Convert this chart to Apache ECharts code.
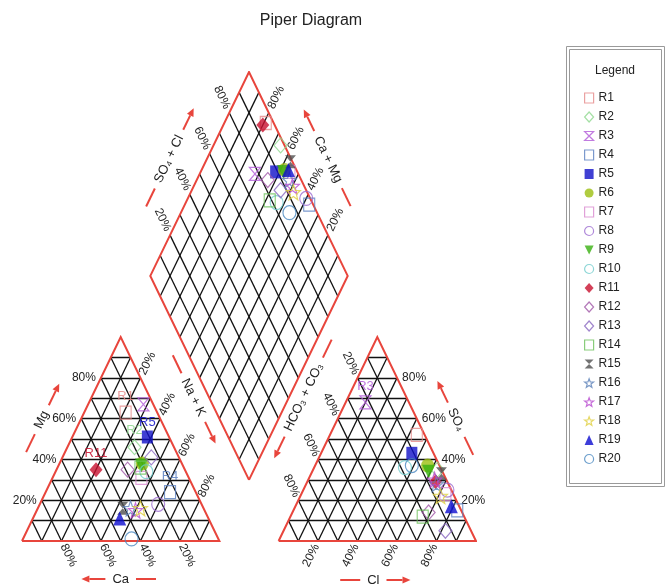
<!DOCTYPE html>
<html>
<head>
<meta charset="utf-8">
<title>Piper Diagram</title>
<script src="https://cdn.jsdelivr.net/npm/echarts@6/dist/echarts.min.js"></script>
<style>
  html, body { margin: 0; padding: 0; background: #fff; }
  #chart { width: 668px; height: 584px; }
</style>
</head>
<body>
<div id="chart"></div>
<script>
// ---- sample data (percent of meq/L) ----
const samples = ['R1','R2','R3','R4','R5','R6','R7','R8','R9','R10',
                 'R11','R12','R13','R14','R15','R16','R17','R18','R19','R20'];
// cations
const caPct  = [16, 20,  5, 13, 11, 20, 24, 22, 21, 20, 45, 29, 14, 22, 41, 37, 35, 32, 45, 44];
const mgPct  = [63, 46, 67, 24, 51, 38, 31, 18, 37, 34, 35, 35, 41, 36, 16, 16, 15, 16, 11,  1];
const naKPct = [21, 34, 28, 63, 38, 42, 45, 60, 42, 46, 20, 36, 45, 42, 43, 47, 50, 52, 44, 55];
// anions
const hco3Pct = [ 4,  2, 22,  2, 11,  6,  4,  2,  7, 18,  6, 17, 13, 21,  1,  6,  6,  7,  4, 14];
const so4Pct  = [52, 35, 68, 15, 43, 37, 23, 25, 34, 36, 29, 14,  5, 12, 33, 28, 30, 22, 17, 37];
const clPct   = [44, 63, 10, 83, 46, 57, 73, 73, 59, 46, 65, 69, 82, 67, 66, 66, 64, 71, 79, 49];

// tick labels on every ternary edge
const tickPercents = [20, 40, 60, 80];
const tickLabels = ['20%', '40%', '60%', '80%'];
const gridPercents = [10, 20, 30, 40, 50, 60, 70, 80, 90];

// samples whose names are written next to the marker
const namedInCationPlot = ['R1', 'R2', 'R4', 'R5', 'R11'];
const namedInAnionPlot = ['R3'];

// ---- marker styles ----
const STAR = (function () {
  let d = '';
  for (let i = 0; i < 10; i++) {
    const r = i % 2 ? 0.42 : 1;
    const t = -Math.PI / 2 + i * Math.PI / 5;
    d += (i ? 'L' : 'M') + (r * Math.cos(t)).toFixed(3) + ',' + (r * Math.sin(t)).toFixed(3);
  }
  return 'path://' + d + 'Z';
})();
const SQUARE = 'rect', DIAMOND = 'diamond', CIRCLE = 'circle', TRI_UP = 'triangle';
const TRI_DOWN = 'path://M0,0L10,0L5,10Z';
const HOURGLASS = 'path://M0,0L10,0L0,10L10,10Z';

const markerStyles = [
  { symbol: SQUARE,    color: '#e58a8a', filled: false, size: [11, 13] },
  { symbol: DIAMOND,   color: '#8fd88f', filled: false, size: [13, 15] },
  { symbol: HOURGLASS, color: '#b25ad8', filled: false, size: [11, 13] },
  { symbol: SQUARE,    color: '#5a7fc0', filled: false, size: [11, 13] },
  { symbol: SQUARE,    color: '#1010c8', filled: true,  size: [11, 13] },
  { symbol: CIRCLE,    color: '#9cbf10', filled: true,  size: [13, 14] },
  { symbol: SQUARE,    color: '#d98ad0', filled: false, size: [11, 13] },
  { symbol: CIRCLE,    color: '#9b6ad0', filled: false, size: [13, 14] },
  { symbol: TRI_DOWN,  color: '#38b010', filled: true,  size: [13, 14] },
  { symbol: CIRCLE,    color: '#70cccc', filled: false, size: [13, 14] },
  { symbol: DIAMOND,   color: '#c8102e', filled: true,  size: [13, 15] },
  { symbol: DIAMOND,   color: '#a058a8', filled: false, size: [13, 15] },
  { symbol: DIAMOND,   color: '#8a68c0', filled: false, size: [13, 15] },
  { symbol: SQUARE,    color: '#6cc05a', filled: false, size: [11, 13] },
  { symbol: HOURGLASS, color: '#505050', filled: true,  size: [11, 13] },
  { symbol: STAR,      color: '#5a80b8', filled: false, size: [14, 15] },
  { symbol: STAR,      color: '#b848d0', filled: false, size: [14, 15] },
  { symbol: STAR,      color: '#e0d040', filled: false, size: [14, 15] },
  { symbol: TRI_UP,    color: '#0c0cd0', filled: true,  size: [13, 14] },
  { symbol: CIRCLE,    color: '#4a88c0', filled: false, size: [13, 14] }
];

const FONT = '"Liberation Sans", Arial, Helvetica, sans-serif';
const RED = '#e8453c';
const TEXT = '#222';

// ---- Piper geometry in axis units: triangle side = 100, height = 100 ----
const GAP = 30;                 // horizontal gap between the two triangles
const ANION_X0 = 100 + GAP;     // left corner of the anion triangle
const DIAMOND_BOTTOM = [100 + GAP / 2, GAP];

function cationXY(ca, mg, nak) {
  const s = ca + mg + nak;
  const m = 100 * mg / s, n = 100 * nak / s;
  return [n + m / 2, m];
}
function anionXY(hco3, so4, cl) {
  const s = hco3 + so4 + cl;
  const su = 100 * so4 / s, c = 100 * cl / s;
  return [ANION_X0 + c + su / 2, su];
}
// a = SO4 + Cl (%), c = Ca + Mg (%)
function diamondXY(a, c) {
  return [DIAMOND_BOTTOM[0] + (a - c) / 2, DIAMOND_BOTTOM[1] + a + c];
}

// ---- grid and frame segments ----
function gridSegments() {
  const segs = [];
  gridPercents.forEach(function (v) {
    [0, ANION_X0].forEach(function (ox) {
      segs.push([[ox + v / 2, v], [ox + 100 - v / 2, v]]);
      segs.push([[ox + v, 0], [ox + 50 + v / 2, 100 - v]]);
      segs.push([[ox + 100 - v, 0], [ox + (100 - v) / 2, 100 - v]]);
    });
    segs.push([diamondXY(v, 0), diamondXY(v, 100)]);
    segs.push([diamondXY(0, v), diamondXY(100, v)]);
  });
  return segs;
}
const frames = [
  [[0, 0], [100, 0], [50, 100], [0, 0]],
  [[ANION_X0, 0], [ANION_X0 + 100, 0], [ANION_X0 + 50, 100], [ANION_X0, 0]],
  [diamondXY(0, 0), diamondXY(100, 0), diamondXY(100, 100), diamondXY(0, 100), diamondXY(0, 0)]
];

// ---- helpers for annotations ----
const measureCtx = document.createElement('canvas').getContext('2d');
function textWidth(s, size) {
  measureCtx.font = size + 'px ' + FONT;
  return measureCtx.measureText(s).width;
}
const sub = (a, b) => [a[0] - b[0], a[1] - b[1]];
const add = (a, b) => [a[0] + b[0], a[1] + b[1]];
const mul = (a, k) => [a[0] * k, a[1] * k];
const unit = a => { const l = Math.hypot(a[0], a[1]); return [a[0] / l, a[1] / l]; };

function textEl(p, s, rot, align, size) {
  return {
    type: 'text', x: p[0], y: p[1], rotation: rot || 0,
    style: { text: s, x: 0, y: 0, align: align || 'center', verticalAlign: 'middle',
             fill: TEXT, font: (size || 12) + 'px ' + FONT }
  };
}
function lineEl(a, b) {
  return { type: 'line', shape: { x1: a[0], y1: a[1], x2: b[0], y2: b[1] },
           style: { stroke: RED, lineWidth: 2 } };
}
function arrowEls(s, e) {
  const d = unit(sub(e, s)), n = [-d[1], d[0]];
  const hl = 8, hw = 3.6;
  const b = sub(e, mul(d, hl));
  return [
    lineEl(s, b),
    { type: 'polygon', shape: { points: [e, add(b, mul(n, hw)), sub(b, mul(n, hw))] },
      style: { fill: RED } }
  ];
}

function renderAnnotations(params, api) {
  const P = p => api.coord(p);
  const els = [];
  const vUR = unit(sub(P([50, 100]), P([0, 0])));
  const vDR = [vUR[0], -vUR[1]];
  const vUL = [-vUR[0], vUR[1]];
  const vDL = [-vUR[0], -vUR[1]];
  const angUR = Math.atan2(-vUR[1], vUR[0]);
  const angDR = -angUR;

  tickPercents.forEach(function (v, k) {
    const lab = tickLabels[k];
    let p;
    // cation triangle
    p = P([v / 2, v]);
    els.push(textEl([p[0] - 5, p[1]], lab, 0, 'right'));                      // Mg
    els.push(textEl(add(P([50 + v / 2, 100 - v]), mul(vUR, 16)), lab, angUR)); // Na + K
    els.push(textEl(add(P([100 - v, 0]), mul(vDR, 16)), lab, angDR));          // Ca
    // anion triangle
    els.push(textEl(add(P([ANION_X0 + (100 - v) / 2, 100 - v]), mul(vUL, 16)), lab, angDR)); // HCO3
    p = P([ANION_X0 + 100 - v / 2, v]);
    els.push(textEl([p[0] + 5, p[1]], lab, 0, 'left'));                        // SO4
    els.push(textEl(add(P([ANION_X0 + v, 0]), mul(vDL, 16)), lab, angUR));     // Cl
    // diamond
    els.push(textEl(add(P(diamondXY(v, 100)), mul(vUL, 17)), lab, angDR));     // SO4 + Cl
    els.push(textEl(add(P(diamondXY(100, v)), mul(vUR, 17)), lab, angUR));     // Ca + Mg
  });

  function anchor(p0, p1, inner, t, d) {
    const A = P(p0), B = P(p1), I = P(inner);
    const pt = add(A, mul(sub(B, A), t));
    let n = unit([-(B[1] - A[1]), B[0] - A[0]]);
    if ((I[0] - pt[0]) * n[0] + (I[1] - pt[1]) * n[1] > 0) n = mul(n, -1);
    return add(pt, mul(n, d));
  }
  function axisTitle(center, dir, label, arrowSide) {
    const half = textWidth(label, 13) / 2, gap = 7, dashLen = 20, arrLen = 24;
    const rot = Math.atan2(-dir[1], dir[0]);
    const at = t => add(center, mul(dir, t));
    els.push(textEl(center, label, rot, 'center', 13));
    const s = arrowSide;
    els.push.apply(els, arrowEls(at(s * (half + gap)), at(s * (half + gap + arrLen))));
    els.push(lineEl(at(-s * (half + gap)), at(-s * (half + gap + dashLen))));
  }
  const cIn = [50, 33], aIn = [ANION_X0 + 50, 33], dIn = diamondXY(50, 50);
  axisTitle(anchor([0, 0], [50, 100], cIn, 0.52, 35), vUR, 'Mg', 1);
  axisTitle(anchor([100, 0], [50, 100], cIn, 0.62, 39), vDR, 'Na + K', 1);
  axisTitle(anchor([0, 0], [100, 0], cIn, 0.5, 38), [1, 0], 'Ca', -1);
  axisTitle(anchor([ANION_X0, 0], [ANION_X0 + 50, 100], aIn, 0.62, 40), vUR, 'HCO\u2083 + CO\u2083', -1);
  axisTitle(anchor([ANION_X0 + 100, 0], [ANION_X0 + 50, 100], aIn, 0.52, 35), vDR, 'SO\u2084', -1);
  axisTitle(anchor([ANION_X0, 0], [ANION_X0 + 100, 0], aIn, 0.48, 39), [1, 0], 'Cl', 1);
  axisTitle(anchor(diamondXY(0, 100), diamondXY(100, 100), dIn, 0.5, 34), vUR, 'SO\u2084 + Cl', 1);
  axisTitle(anchor(diamondXY(100, 0), diamondXY(100, 100), dIn, 0.5, 33), vDR, 'Ca + Mg', -1);

  return { type: 'group', children: els };
}

// ---- sample series ----
const sampleSeries = samples.map(function (name, i) {
  const st = markerStyles[i];
  const a = 100 * (so4Pct[i] + clPct[i]) / (hco3Pct[i] + so4Pct[i] + clPct[i]);
  const c = 100 * (caPct[i] + mgPct[i]) / (caPct[i] + mgPct[i] + naKPct[i]);
  return {
    type: 'scatter',
    name: name,
    symbol: st.symbol,
    symbolSize: st.size,
    itemStyle: st.filled
      ? { color: st.color, borderWidth: 0 }
      : { color: 'rgba(255,255,255,0)', borderColor: st.color, borderWidth: 1.2 },
    label: { show: false, position: 'top', distance: 2, color: st.color, opacity: 0.85,
             fontSize: 13, fontFamily: FONT, formatter: name },
    emphasis: { disabled: true },
    data: [
      { value: cationXY(caPct[i], mgPct[i], naKPct[i]), label: { show: namedInCationPlot.includes(name) } },
      { value: anionXY(hco3Pct[i], so4Pct[i], clPct[i]), label: { show: namedInAnionPlot.includes(name) } },
      { value: diamondXY(a, c) }
    ],
    z: 5
  };
});

const chart = echarts.init(document.getElementById('chart'), null, { renderer: 'canvas' });
chart.setOption({
  animation: false,
  backgroundColor: '#fff',
  grid: { left: 22, top: 72, width: 454, height: 469 },
  xAxis: { type: 'value', min: 0, max: 230, show: false },
  yAxis: { type: 'value', min: 0, max: 230, show: false },
  legend: {
    orient: 'vertical', left: 584, top: 92,
    itemWidth: 9, itemHeight: 10, itemGap: 7, padding: 0,
    selectedMode: false,
    itemStyle: { borderWidth: 1.2 },
    textStyle: { fontSize: 12, color: TEXT, fontFamily: FONT },
    data: samples.map((name, i) => ({ name: name, icon: markerStyles[i].symbol }))
  },
  graphic: [
    { type: 'text', x: 311, y: 21,
      style: { text: 'Piper Diagram', font: '16px ' + FONT, fill: TEXT, align: 'center', verticalAlign: 'middle' } },
    { type: 'rect', shape: { x: 566.5, y: 46.5, width: 98, height: 440 },
      style: { fill: '#fff', stroke: '#9a9a9a', lineWidth: 1 }, z: -1 },
    { type: 'rect', shape: { x: 569.5, y: 49.5, width: 92, height: 434 },
      style: { fill: 'none', stroke: '#9a9a9a', lineWidth: 1 }, z: -1 },
    { type: 'text', x: 615, y: 71,
      style: { text: 'Legend', font: '12px ' + FONT, fill: TEXT, align: 'center', verticalAlign: 'middle' } }
  ],
  series: [
    {
      type: 'lines', coordinateSystem: 'cartesian2d', polyline: false, silent: true, z: 1,
      lineStyle: { color: '#111', width: 1.3, opacity: 1 },
      data: gridSegments().map(s => ({ coords: s }))
    },
    {
      type: 'lines', coordinateSystem: 'cartesian2d', polyline: true, silent: true, z: 2,
      lineStyle: { color: RED, width: 2, opacity: 1 },
      data: frames.map(f => ({ coords: f }))
    },
    {
      type: 'custom', coordinateSystem: 'cartesian2d', silent: true, clip: false, z: 3,
      data: [[0, 0]], renderItem: renderAnnotations
    }
  ].concat(sampleSeries)
});
</script>
</body>
</html>
